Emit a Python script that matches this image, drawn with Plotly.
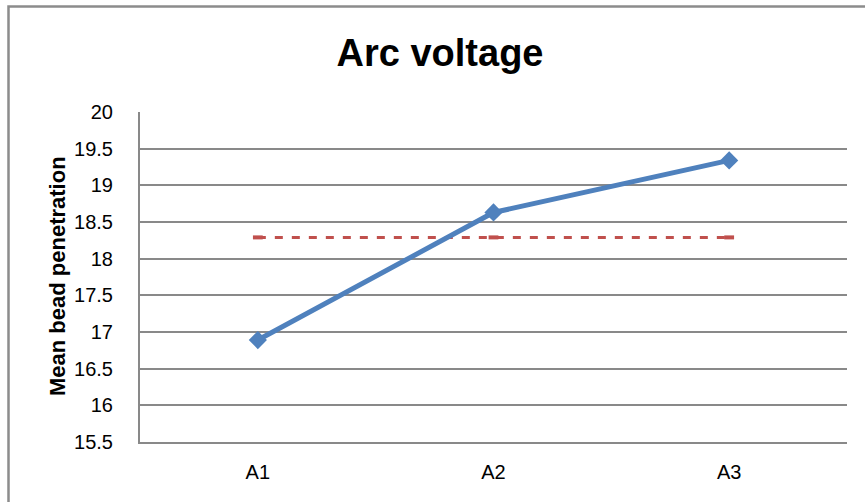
import plotly.graph_objects as go

# Mean bead penetration per arc-voltage level
categories = ["A1", "A2", "A3"]
penetration = [16.89, 18.63, 19.34]
overall_mean = round(sum(penetration) / len(penetration), 2)
mean_line = [overall_mean] * len(categories)
y_ticks = [15.5, 16, 16.5, 17, 17.5, 18, 18.5, 19, 19.5, 20]

W, H = 865, 502
ML, MR, MT, MB = 140, 18, 112, 60
PW, PH = W - ML - MR, H - MT - MB

BLUE = "#4F81BD"
RED = "#C0504D"
GRID = "#898989"
FONT = "Liberation Sans"

fig = go.Figure()

fig.add_trace(go.Scatter(
    x=categories, y=mean_line, mode="lines+markers",
    line=dict(color=RED, width=3, dash="8px,9px"),
    marker=dict(symbol="line-ew", size=7, line=dict(color=RED, width=4)),
    showlegend=False, hoverinfo="skip",
))

fig.add_trace(go.Scatter(
    x=categories, y=penetration, mode="lines+markers",
    line=dict(color=BLUE, width=5),
    marker=dict(symbol="diamond", size=14, color=BLUE),
    showlegend=False,
))

# chart frame (left and top edges visible in the window)
def px_x(p):
    return (p - ML) / PW

def px_y(p):
    return (H - MB - p) / PH

fig.add_shape(type="rect", xref="paper", yref="paper",
              x0=px_x(8.5), x1=px_x(880), y0=px_y(520), y1=px_y(6.5),
              line=dict(color="#8C8C8C", width=2.5), layer="below")

fig.add_annotation(
    text="<b>Mean bead penetration</b>", textangle=-90,
    xref="paper", yref="paper", x=px_x(57), y=px_y(276),
    showarrow=False, font=dict(family=FONT, size=22, color="#000000"),
    xanchor="center", yanchor="middle",
)

fig.update_layout(
    width=W, height=H,
    margin=dict(l=ML, r=MR, t=MT, b=MB),
    paper_bgcolor="white", plot_bgcolor="white",
    title=dict(
        text="<b>Arc voltage</b>", x=440 / W, xref="container", xanchor="center",
        y=1 - 53 / H, yref="container", yanchor="middle",
        font=dict(family=FONT, size=38, color="#000000"),
    ),
    font=dict(family=FONT, size=20, color="#000000"),
)

fig.update_xaxes(
    type="category", range=[-0.5, 2.5],
    showgrid=False, showline=True, linecolor=GRID, linewidth=2,
    ticks="", ticklabelstandoff=11, zeroline=False,
    tickfont=dict(family=FONT, size=20, color="#000000"),
)

fig.update_yaxes(
    range=[15.5, 20], tickvals=y_ticks, ticktext=[f"{v:g}" for v in y_ticks],
    showgrid=True, gridcolor=GRID, gridwidth=1.5,
    showline=True, linecolor=GRID, linewidth=2,
    ticks="", ticklabelstandoff=21, zeroline=False,
    tickfont=dict(family=FONT, size=20, color="#000000"),
)

fig.write_html("out.html")
